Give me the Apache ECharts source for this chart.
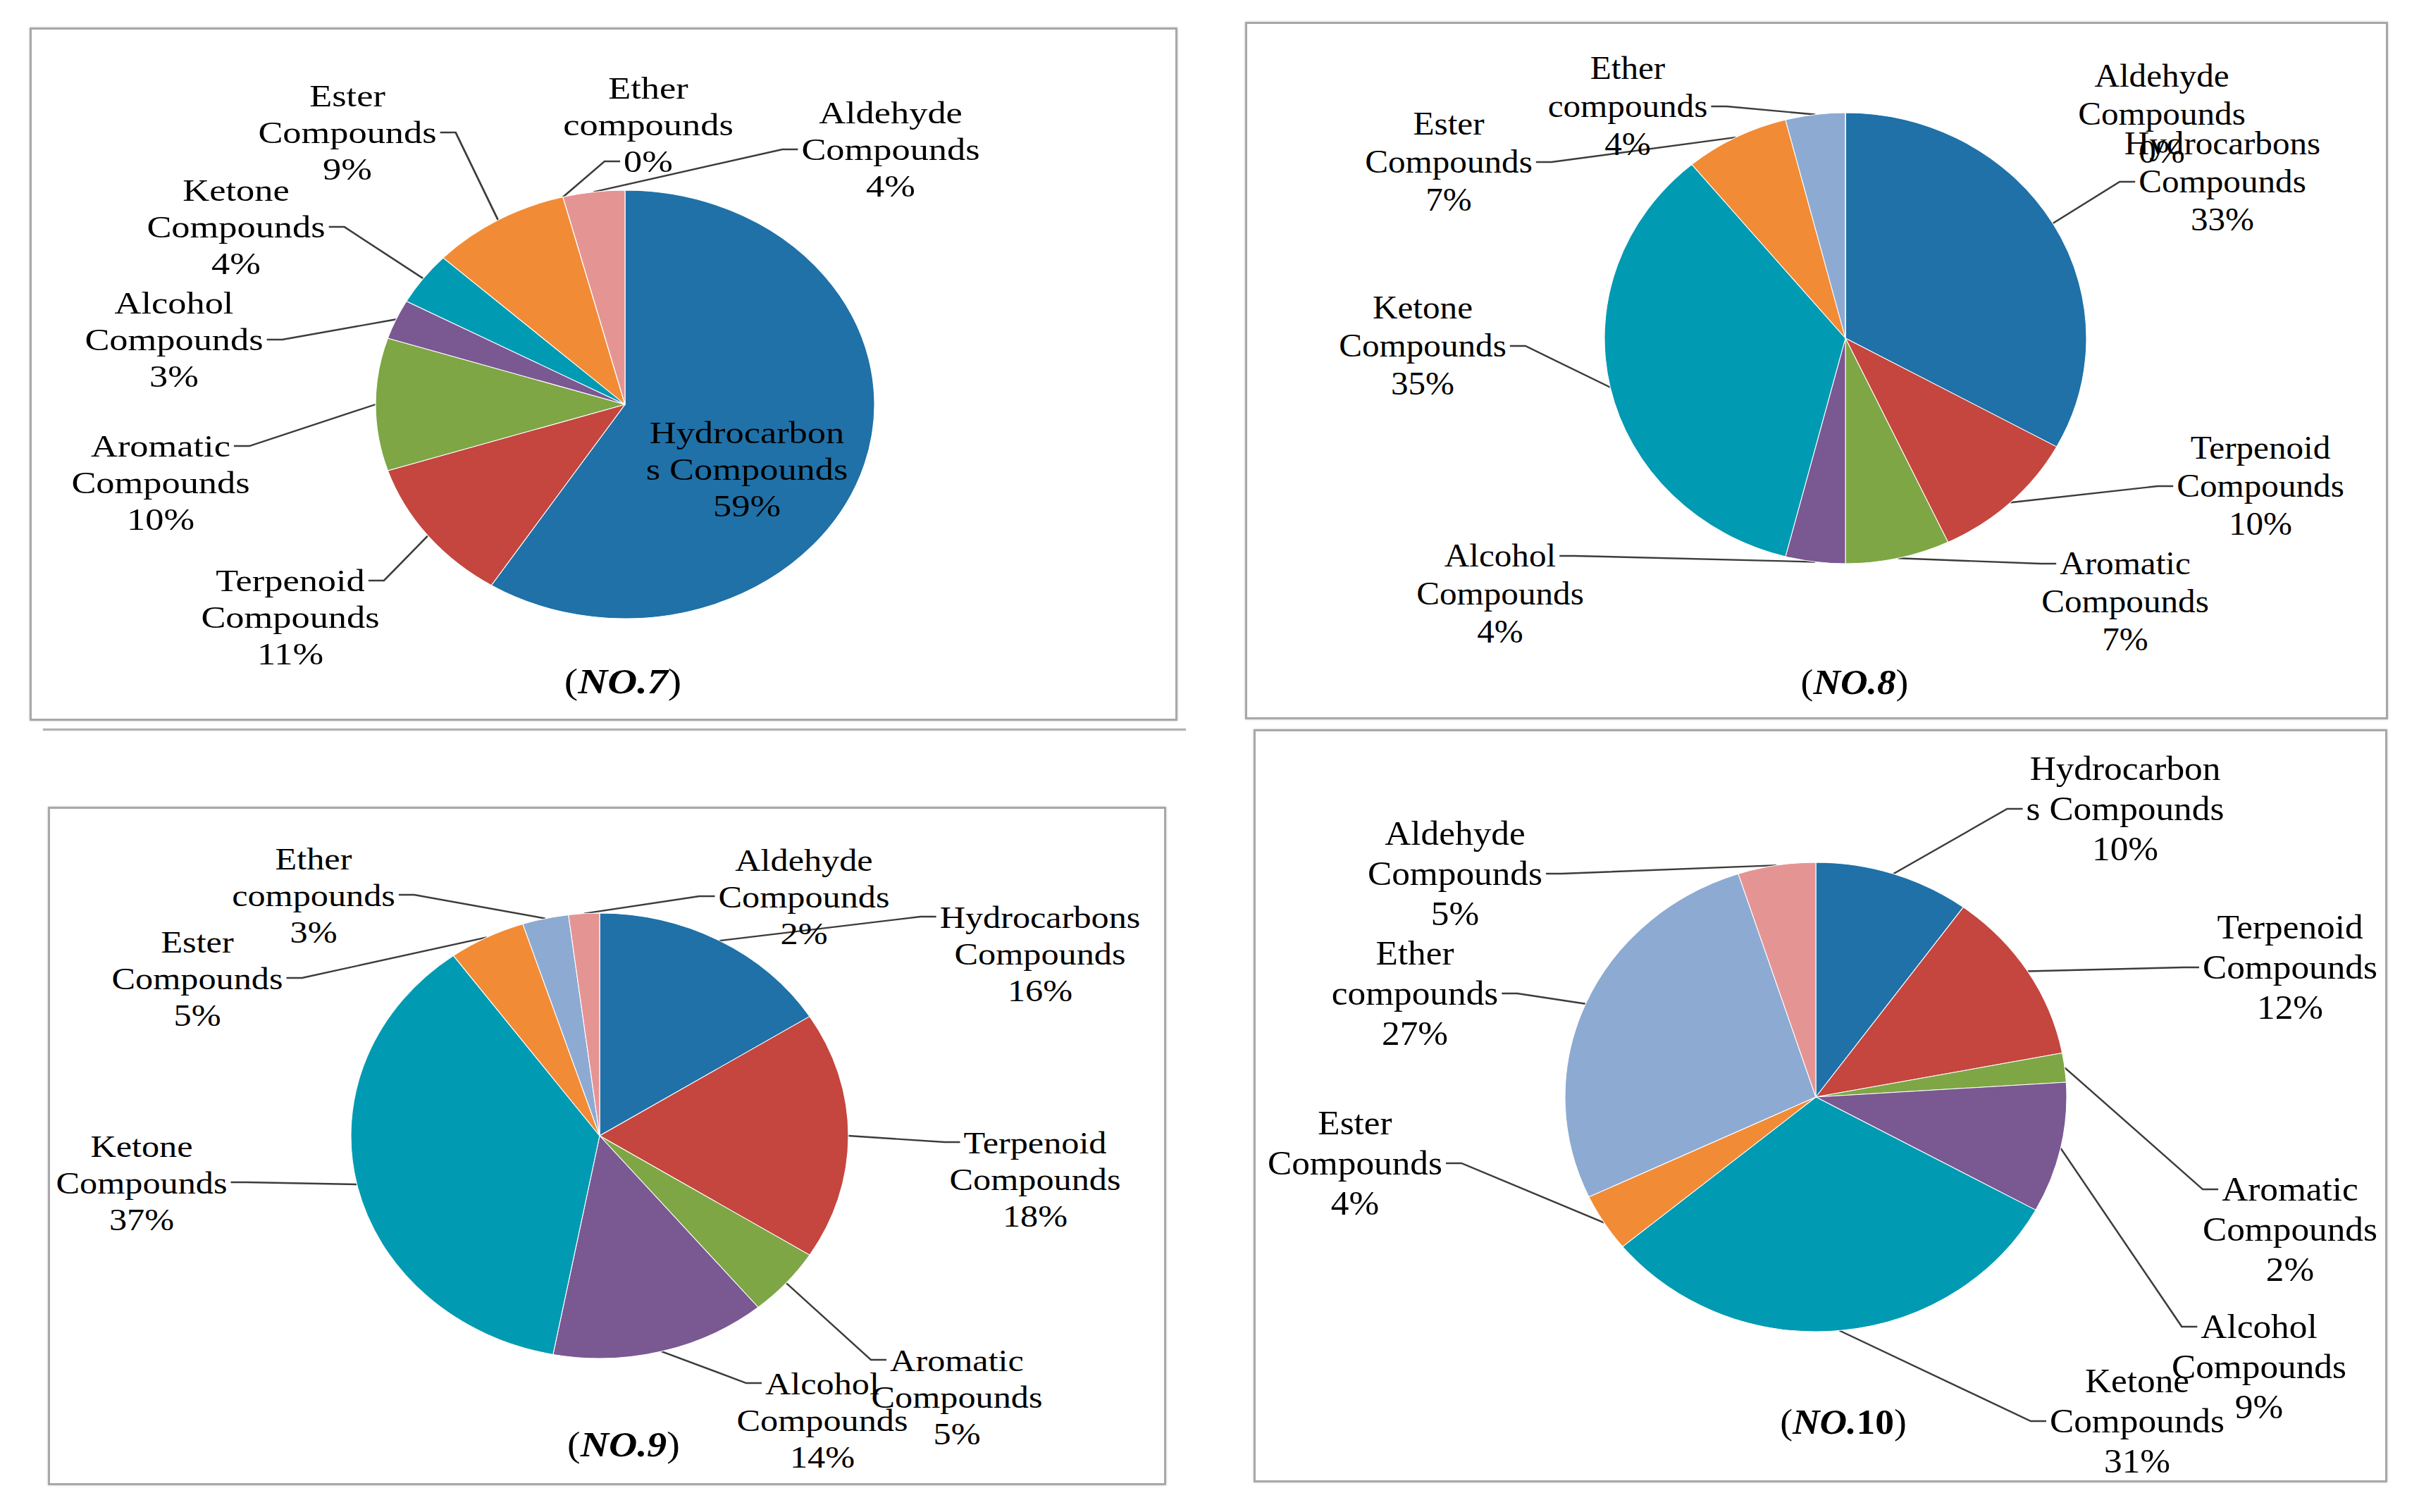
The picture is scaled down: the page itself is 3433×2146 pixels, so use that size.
<!DOCTYPE html>
<html><head><meta charset="utf-8">
<script src="https://cdn.jsdelivr.net/npm/echarts@6/dist/echarts.min.js"></script>
<style>
html,body{margin:0;padding:0;background:#fff;width:3433px;height:2146px;overflow:hidden;}
.frame{position:absolute;border:3px solid #a8a8a8;box-sizing:border-box;box-shadow:0 0 3px rgba(0,0,0,0.22);}
.chart{position:absolute;transform-origin:0 0;}
.rule{position:absolute;height:3px;background:#b3b3b3;box-shadow:0 0 2px rgba(0,0,0,0.2);}
</style></head><body>
<div class="rule" style="left:61px;top:1034px;width:1622px;"></div>
<script>
// ---------- DATA ----------
const categories = ['Hydrocarbons Compounds','Terpenoid Compounds','Aromatic Compounds','Alcohol Compounds','Ketone Compounds','Ester Compounds','Ether compounds','Aldehyde Compounds'];
const labels7  = ['Hydrocarbon\ns Compounds','Terpenoid\nCompounds','Aromatic\nCompounds','Alcohol\nCompounds','Ketone\nCompounds','Ester\nCompounds','Ether\ncompounds','Aldehyde\nCompounds'];
const labels8  = ['Hydrocarbons\nCompounds','Terpenoid\nCompounds','Aromatic\nCompounds','Alcohol\nCompounds','Ketone\nCompounds','Ester\nCompounds','Ether\ncompounds','Aldehyde\nCompounds'];
const labels9  = ['Hydrocarbons\nCompounds','Terpenoid\nCompounds','Aromatic\nCompounds','Alcohol\nCompounds','Ketone\nCompounds','Ester\nCompounds','Ether\ncompounds','Aldehyde\nCompounds'];
const labels10 = ['Hydrocarbon\ns Compounds','Terpenoid\nCompounds','Aromatic\nCompounds','Alcohol\nCompounds','Ketone\nCompounds','Ester\nCompounds','Ether\ncompounds','Aldehyde\nCompounds'];
const values7  = [59, 11, 10, 3, 4, 9, 0, 4];
const values8  = [33, 10, 7, 4, 35, 7, 4, 0];
const values9  = [16, 18, 5, 14, 37, 5, 3, 2];
const values10 = [10, 12, 2, 9, 31, 4, 27, 5];
const titleNumbers = ['7', '8', '9', '10'];

// ---------- STYLE / LAYOUT ----------
const colors = ['#1f71a8','#c4463f','#7ea645','#7a5892','#009ab2','#f28b36','#8daad2','#e59494'];
const FONT = '"Liberation Serif", "Times New Roman", serif';
// label layout: [centerX, middleLineY, attachLine(-1 none), side]
const panels = [
  {values: values7, labels: labels7, num: titleNumbers[0], numItalic: true,
   box: [42, 39, 1671, 1023], center: [887, 574], rx: 354, ry: 304, title: [884, 967], fs: 45, lh: 52,
   pos: [[1060,666,-1,'n'],[412,876,0,'r'],[228,685,0,'r'],[247,482,1,'r'],[335,322,1,'r'],[493,188,1,'r'],[920,177,2,'l'],[1264,212,1,'l']]},
  {values: values8, labels: labels8, num: titleNumbers[1], numItalic: true,
   box: [1767, 31, 3389, 1021], center: [2619, 480], rx: 342, ry: 320, title: [2632, 968], fs: 46, lh: 54,
   pos: [[3154,258,1,'l'],[3208,690,1,'l'],[3016,854,0,'l'],[2129,843,0,'r'],[2019,491,1,'r'],[2056,230,1,'r'],[2310,151,1,'r'],[3068,162,-1,'n']]},
  {values: values9, labels: labels9, num: titleNumbers[2], numItalic: true,
   box: [68, 1145, 1655, 2108], center: [851, 1612], rx: 353, ry: 316, title: [885, 2050], fs: 45, lh: 52,
   pos: [[1476,1353,0,'l'],[1469,1673,0,'l'],[1358,1982,0,'l'],[1167,2015,0,'l'],[201,1678,1,'r'],[280,1388,1,'r'],[445,1270,1,'r'],[1141,1272,1,'l']]},
  {values: values10, labels: labels10, num: titleNumbers[3], numItalic: false,
   box: [1779, 1035, 3388, 2104], center: [2577, 1557], rx: 356, ry: 333, title: [2616, 2018], fs: 48, lh: 57,
   pos: [[3016,1148,1,'l'],[3250,1373,1,'l'],[3250,1745,0,'l'],[3206,1940,0,'l'],[3033,2017,1,'l'],[1923,1651,1,'r'],[2008,1410,1,'r'],[2065,1240,1,'r']]}
];

const mctx = document.createElement('canvas').getContext('2d');
function measure(text, fs) { mctx.font = fs + 'px ' + FONT; return mctx.measureText(text).width; }

panels.forEach(function (P) {
  const bx = P.box[0], by = P.box[1], bw = P.box[2] - P.box[0], bh = P.box[3] - P.box[1];
  const k = P.rx / P.ry;
  const frame = document.createElement('div');
  frame.className = 'frame';
  Object.assign(frame.style, {left: bx + 'px', top: by + 'px', width: bw + 'px', height: bh + 'px'});
  document.body.appendChild(frame);
  const el = document.createElement('div');
  el.className = 'chart';
  Object.assign(el.style, {left: bx + 'px', top: by + 'px', width: (bw / k) + 'px', height: bh + 'px', transform: 'scaleX(' + k + ')'});
  document.body.appendChild(el);
  const chart = echarts.init(el, null, {renderer: 'svg'});

  const titleText = P.numItalic ? '{p|(}{bi|NO.' + P.num + '}{p|)}' : '{p|(}{bi|NO.}{b|' + P.num + '}{p|)}';
  const fullLabel = function (i) { return P.labels[i] + '\n' + P.values[i] + '%'; };

  chart.setOption({
    animation: false,
    color: colors,
    graphic: [{
      type: 'text', x: (P.title[0] - bx) / k, y: P.title[1] - by,
      style: {
        text: titleText, align: 'center', verticalAlign: 'middle', fill: '#000',
        font: '50px ' + FONT,
        rich: {
          p: {fontFamily: FONT, fontSize: 50, fill: '#000', color: '#000'},
          bi: {fontFamily: FONT, fontSize: 50, fontWeight: 'bold', fontStyle: 'italic', fill: '#000', color: '#000'},
          b: {fontFamily: FONT, fontSize: 50, fontWeight: 'bold', fill: '#000', color: '#000'}
        }
      }
    }],
    series: [{
      type: 'pie',
      center: [(P.center[0] - bx) / k, P.center[1] - by],
      radius: P.ry,
      startAngle: 90,
      clockwise: true,
      avoidLabelOverlap: false,
      minShowLabelAngle: 0,
      itemStyle: {borderColor: '#ffffff', borderWidth: 1},
      label: {
        show: true, position: 'outside', align: 'center',
        formatter: function (p) { return fullLabel(p.dataIndex); },
        fontFamily: FONT, fontSize: P.fs, lineHeight: P.lh, color: '#000'
      },
      labelLine: {show: true, length: 10, length2: 10, smooth: false, lineStyle: {color: '#3c3c3c', width: 2.4}},
      emphasis: {disabled: true},
      data: P.values.map(function (v, i) {
        const d = {name: categories[i], value: v, itemStyle: {color: colors[i]}};
        if (P.pos[i][2] < 0) d.labelLine = {show: false};
        return d;
      }),
      labelLayout: function (params) {
        const i = params.dataIndex;
        const spec = P.pos[i];
        const x = (spec[0] - bx) / k, y = spec[1] - by;
        const res = {x: x, y: y, align: 'center', verticalAlign: 'middle'};
        if (spec[2] < 0 || !params.labelLinePoints) return res;
        const lines = fullLabel(i).split('\n');
        const w = measure(lines[spec[2]], P.fs);
        const ay = y + (spec[2] - 1) * P.lh;
        const dir = spec[3] === 'l' ? -1 : 1;
        const ax = x + dir * (w / 2 + 5 / k);
        const ex = ax + dir * (22 / k);
        const p0 = params.labelLinePoints[0];
        res.labelLinePoints = [[p0[0], p0[1]], [ex, ay], [ax, ay]];
        return res;
      }
    }]
  });
});
</script>
</body></html>
